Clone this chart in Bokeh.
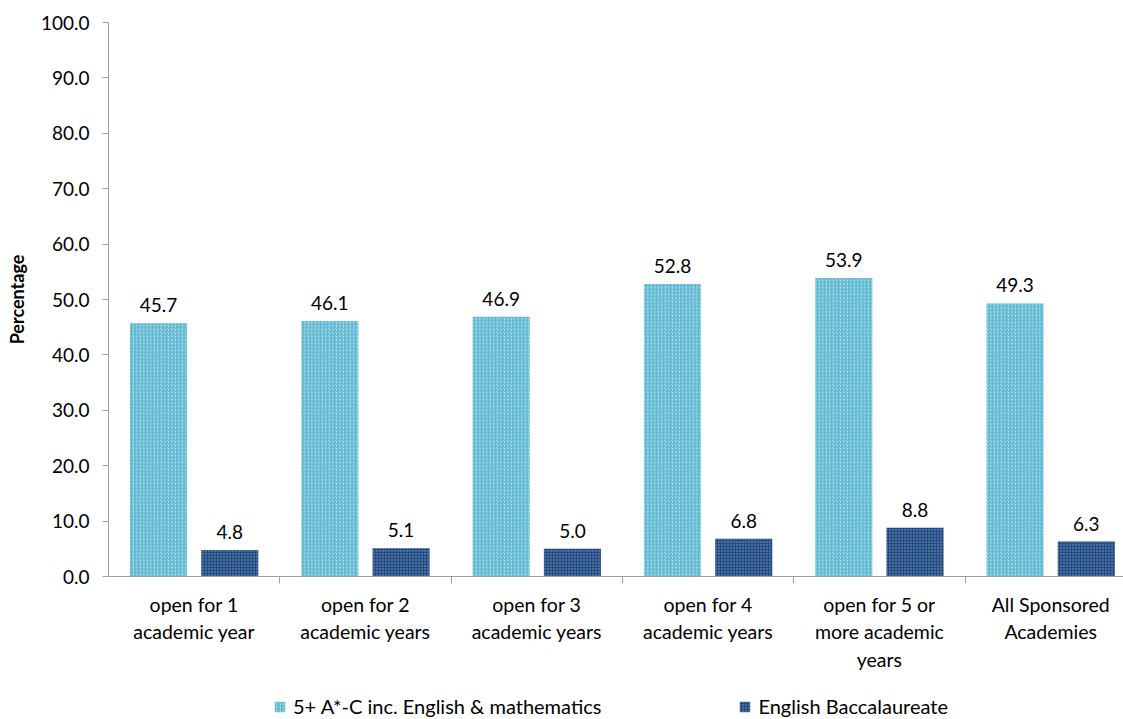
from bokeh.plotting import figure
from bokeh.layouts import column
from bokeh.models import ColumnDataSource, Range1d, FixedTicker, Legend, LegendItem, LabelSet
from bokeh.core.properties import value
from bokeh.embed import file_html
from bokeh.resources import INLINE

categories = ["open for 1\nacademic year", "open for 2\nacademic years", "open for 3\nacademic years",
              "open for 4\nacademic years", "open for 5 or\nmore academic\nyears", "All Sponsored\nAcademies"]
series_names = ["5+ A*-C inc. English & mathematics", "English Baccalaureate"]
gcse = [45.7, 46.1, 46.9, 52.8, 53.9, 49.3]
ebacc = [4.8, 5.1, 5.0, 6.8, 8.8, 6.3]
y_ticks = [0, 10, 20, 30, 40, 50, 60, 70, 80, 90, 100]

FONT = "Lato"
centers = [i + 0.5 for i in range(len(categories))]
off = 0.208
w = 0.333

src1 = ColumnDataSource(dict(x=[c - off for c in centers], top=gcse, lbl=[f"{v:.1f}" for v in gcse]))
src2 = ColumnDataSource(dict(x=[c + off for c in centers], top=ebacc, lbl=[f"{v:.1f}" for v in ebacc]))

style1 = dict(fill_color="#CDECF5", line_color=None, hatch_pattern="right_diagonal_line",
              hatch_color="#5BB7D0", hatch_scale=3.5, hatch_weight=1.5)
style2 = dict(fill_color="#244E83", line_color=None, hatch_pattern="dot",
              hatch_color="#7E9CC4", hatch_scale=3, hatch_weight=1)

p = figure(frame_width=1015, frame_height=554, output_backend="svg", toolbar_location=None,
           x_range=Range1d(0, 5.925), y_range=Range1d(0, 100),
           min_border_left=108, min_border_top=22, min_border_right=0, min_border_bottom=109)
p.outline_line_color = None
p.xgrid.visible = False
p.ygrid.visible = False

p.vbar(x="x", top="top", width=w, source=src1, **style1)
p.vbar(x="x", top="top", width=w, source=src2, **style2)

for s in (src1, src2):
    p.add_layout(LabelSet(x="x", y="top", text="lbl", source=s, text_align="center", y_offset=11,
                          text_font=value(FONT), text_font_size=value("19px"), text_color="#000000"))

ax = p.xaxis[0]
ax.ticker = FixedTicker(ticks=centers, minor_ticks=[1, 2, 3, 4, 5])
ax.major_label_overrides = {c: lab for c, lab in zip(centers, categories)}
ax.major_tick_out = 0
ax.major_tick_in = 0
ax.minor_tick_out = 7
ax.minor_tick_in = 0
ax.minor_tick_line_color = "#A0A0A0"
ax.axis_line_color = "#A0A0A0"
ax.major_label_text_font = FONT
ax.major_label_text_font_size = "19.5px"
ax.major_label_text_color = "#000000"
ax.major_label_standoff = 9

ay = p.yaxis[0]
ay.ticker = FixedTicker(ticks=y_ticks)
ay.major_label_overrides = {t: f"{t:.1f}" for t in y_ticks}
ay.minor_tick_line_color = None
ay.major_tick_out = 6
ay.major_tick_in = 0
ay.major_tick_line_color = "#A0A0A0"
ay.axis_line_color = "#A0A0A0"
ay.major_label_text_font = FONT
ay.major_label_text_font_size = "19px"
ay.major_label_text_color = "#000000"
ay.major_label_standoff = 13
ay.axis_label = "Percentage"
ay.axis_label_text_font = FONT
ay.axis_label_text_font_size = "18px"
ay.axis_label_text_font_style = "bold"
ay.axis_label_text_color = "#000000"
ay.axis_label_standoff = 10

# legend strip below the chart (its bars lie outside the visible y range)
lg = figure(width=1123, height=34, output_backend="svg", toolbar_location=None,
            x_range=Range1d(0, 5.925), y_range=Range1d(200, 300),
            x_axis_location=None, y_axis_location=None,
            min_border_left=0, min_border_right=0, min_border_top=0, min_border_bottom=0)
lg.outline_line_color = None
lg.xgrid.visible = False
lg.ygrid.visible = False
l1 = lg.vbar(x="x", top="top", width=w, source=src1, **style1)
l2 = lg.vbar(x="x", top="top", width=w, source=src2, **style2)

legend = Legend(items=[LegendItem(label=series_names[0], renderers=[l1]),
                       LegendItem(label=series_names[1], renderers=[l2])],
                orientation="horizontal", location=(165, 1), spacing=137,
                label_text_font=FONT, label_text_font_size="20px", label_text_color="#000000",
                glyph_width=13, glyph_height=13, label_standoff=7,
                border_line_color=None, background_fill_alpha=0,
                padding=0, margin=0, label_height=20)
lg.add_layout(legend, "center")

layout = column(p, lg, spacing=0)
open("out.html", "w").write(file_html(layout, INLINE))
